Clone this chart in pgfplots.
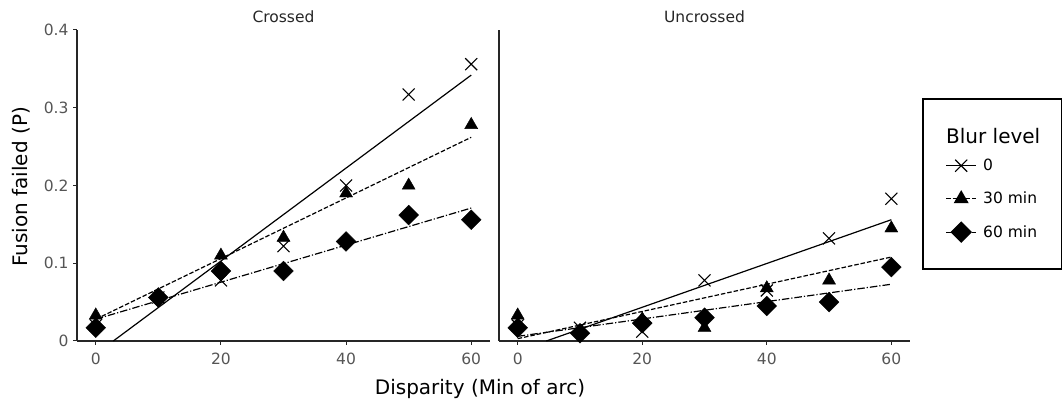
\documentclass[border=0pt]{standalone}
\usepackage{fontspec}
\setmainfont{DejaVu Sans}
\usepackage{pgfplots}
\pgfplotsset{compat=1.18}
\definecolor{tickgray}{HTML}{555555}
\definecolor{spine}{HTML}{262626}

\pgfplotsset{
  panel/.style={
    scale only axis, height=311pt,
    xmin=-3, xmax=63, ymin=0, ymax=0.4,
    axis lines=left, axis line style={-, line width=1.1pt, spine},
    xtick={0,20,40,60}, xticklabels={0,20,40,60},
    tick align=outside, major tick length=4pt,
    tick style={line width=1pt, spine},
    ticklabel style={font=\fontsize{15.5}{15.5}\selectfont, text=tickgray},
    xticklabel shift=4.5pt, yticklabel shift=1pt,
    clip=false,
  },
  fit0/.style={solid, line width=1.2pt, black},
  fit30/.style={dash pattern=on 4.5pt off 2pt, line width=1.2pt, black},
  fit60/.style={dash pattern=on 7.5pt off 2pt on 1.2pt off 2pt, line width=1.2pt, black},
  m0/.style={mark=x, mark size=8.5pt, mark options={solid, line width=1.1pt}, black},
  m30/.style={mark=triangle*, mark size=7.5pt, mark options={solid}, black},
  m60/.style={mark=square*, mark size=7pt, mark options={solid, rotate=45}, black},
  leg/.style={legend image code/.code={%
    \path[draw=none, fill=none, use as bounding box] (0pt,-6pt) rectangle (30pt,6pt);
    \draw[mark repeat=2, mark phase=2, ##1] plot coordinates {(0pt,0pt) (15pt,0pt) (30pt,0pt)};}},
}

\begin{document}
\begin{tikzpicture}[x=1pt, y=1pt]
\useasboundingbox (0,0) rectangle (1062,401);

% Crossed
\begin{axis}[panel, at={(77pt,60pt)}, anchor=south west, width=413pt,
  ytick={0,0.1,0.2,0.3,0.4}, yticklabels={0,0.1,0.2,0.3,0.4}]
\addplot[only marks, m0] coordinates {(0,0.020) (10,0.056) (20,0.078) (30,0.122) (40,0.200) (50,0.317) (60,0.356)};
\addplot[only marks, m30] coordinates {(0,0.033) (10,0.057) (20,0.110) (30,0.133) (40,0.190) (50,0.200) (60,0.278)};
\addplot[only marks, m60] coordinates {(0,0.017) (10,0.056) (20,0.090) (30,0.090) (40,0.128) (50,0.162) (60,0.156)};
\addplot[fit0] coordinates {(2.8,0.0) (60,0.342)};
\addplot[fit30] coordinates {(0,0.028) (60,0.262)};
\addplot[fit60] coordinates {(0,0.028) (60,0.171)};
\end{axis}

% Uncrossed
\begin{axis}[panel, at={(499pt,60pt)}, anchor=south west, width=411pt,
  ytick=\empty, leg,
  legend style={at={(axis description cs:1.0876,0.5852)}, anchor=north west,
    draw=none, fill=none, inner sep=0pt,
    font=\fontsize{15.5}{15.5}\selectfont, row sep=20pt,
    nodes={inner sep=0pt},
    /tikz/every odd column/.append style={column sep=7pt}},
  legend cell align=left]
\addlegendimage{fit0, m0}
\addlegendentry{0}
\addlegendimage{fit30, m30}
\addlegendentry{30 min}
\addlegendimage{fit60, m60}
\addlegendentry{60 min}
\addplot[only marks, m0, forget plot] coordinates {(0,0.020) (10,0.017) (20,0.012) (30,0.078) (40,0.065) (50,0.132) (60,0.183)};
\addplot[only marks, m30, forget plot] coordinates {(0,0.033) (10,0.012) (20,0.028) (30,0.017) (40,0.068) (50,0.078) (60,0.145)};
\addplot[only marks, m60, forget plot] coordinates {(0,0.017) (10,0.010) (20,0.023) (30,0.030) (40,0.045) (50,0.050) (60,0.095)};
\addplot[fit0, forget plot] coordinates {(4.6,0.0) (60,0.156)};
\addplot[fit30, forget plot] coordinates {(0,0.003) (60,0.108)};
\addplot[fit60, forget plot] coordinates {(0,0.006) (60,0.073)};
\end{axis}

% titles, labels, legend frame
\node[anchor=base, font=\fontsize{15.5}{15.5}\selectfont, text=spine] at (283.5,378.5) {Crossed};
\node[anchor=base, font=\fontsize{15.5}{15.5}\selectfont, text=spine] at (704.5,378.5) {Uncrossed};
\node[anchor=base, font=\fontsize{20}{20}\selectfont] at (480,6.5) {Disparity (Min of arc)};
\node[anchor=base, rotate=90, font=\fontsize{20}{20}\selectfont] at (27.6,214) {Fusion failed (P)};
\draw[line width=1.2pt, black] (923,132) rectangle (1061.4,302);
\node[anchor=base west, inner sep=0pt, font=\fontsize{20}{20}\selectfont] at (946,257) {Blur level};
\end{tikzpicture}
\end{document}
